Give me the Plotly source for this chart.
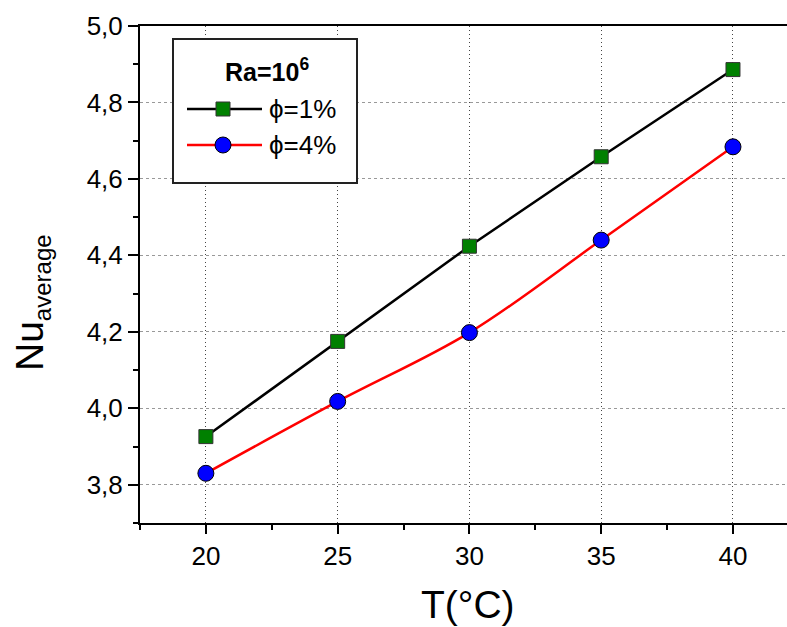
import plotly.graph_objects as go

# ---- data ----
temperature = [20, 25, 30, 35, 40]
nu_phi1 = [3.926, 4.175, 4.424, 4.658, 4.886]
nu_phi4 = [3.830, 4.018, 4.198, 4.440, 4.684]
series_names = ["ϕ=1%", "ϕ=4%"]
legend_title = "<b>Ra=10<sup>6</sup></b>"
x_title = "T(°C)"
y_title = "Nu<sub><span style='font-size:24px'>average</span></sub>"

W, H = 787, 627
ML, MR, MT, MB = 140, 0, 26, 104
FONT = "Liberation Sans, Arial, sans-serif"

def px(x):
    return (x - ML) / (W - ML - MR)

def py(y):
    return (H - MB - y) / (H - MT - MB)

fig = go.Figure()
fig.add_trace(go.Scatter(
    x=temperature, y=nu_phi1, mode="lines+markers", name=series_names[0],
    line=dict(color="black", width=2.5),
    marker=dict(symbol="square", size=14, color="#008000", line=dict(color="#333333", width=1)),
    showlegend=False,
))
fig.add_trace(go.Scatter(
    x=temperature, y=nu_phi4, mode="lines+markers", name=series_names[1],
    line=dict(color="#FF0000", width=2.5, shape="spline", smoothing=1),
    marker=dict(symbol="circle", size=16, color="#0000FF", line=dict(color="black", width=1)),
    showlegend=False,
))

# manual legend box
shapes = []
annotations = []
shapes.append(dict(type="rect", xref="paper", yref="paper",
                   x0=px(173), x1=px(357), y0=py(183), y1=py(39),
                   line=dict(color="#222222", width=2), fillcolor="white", layer="above"))
annotations.append(dict(xref="paper", yref="paper", x=px(267), y=py(70), text=legend_title,
                        showarrow=False, xanchor="center", yanchor="middle",
                        font=dict(family=FONT, size=25, color="black")))
rows = [(109, "black", "square", "#008000", series_names[0]),
        (145, "#FF0000", "circle", "#0000FF", series_names[1])]
for yrow, lc, sym, mc, name in rows:
    shapes.append(dict(type="line", xref="paper", yref="paper",
                       x0=px(187), x1=px(262), y0=py(yrow), y1=py(yrow),
                       line=dict(color=lc, width=2.5), layer="above"))
    if sym == "square":
        shapes.append(dict(type="rect", xref="paper", yref="paper",
                           x0=px(223 - 7), x1=px(223 + 7), y0=py(yrow + 7), y1=py(yrow - 7),
                           fillcolor=mc, line=dict(color="#333333", width=1), layer="above"))
    else:
        shapes.append(dict(type="circle", xref="paper", yref="paper",
                           x0=px(223 - 8), x1=px(223 + 8), y0=py(yrow + 8), y1=py(yrow - 8),
                           fillcolor=mc, line=dict(color="black", width=1), layer="above"))
    annotations.append(dict(xref="paper", yref="paper", x=px(267), y=py(yrow), text=name,
                            showarrow=False, xanchor="left", yanchor="middle",
                            font=dict(family=FONT, size=26, color="black")))

# axis titles
annotations.append(dict(xref="paper", yref="paper", x=px(468), y=py(604), text=x_title,
                        showarrow=False, xanchor="center", yanchor="middle",
                        font=dict(family=FONT, size=39, color="black")))
annotations.append(dict(xref="paper", yref="paper", x=px(32), y=py(302), text=y_title,
                        showarrow=False, xanchor="center", yanchor="middle", textangle=-90,
                        font=dict(family=FONT, size=39, color="black")))

fig.update_layout(
    width=W, height=H,
    margin=dict(l=ML, r=MR, t=MT, b=MB),
    plot_bgcolor="white", paper_bgcolor="white",
    separators=", ",
    font=dict(family=FONT, size=26, color="black"),
    shapes=shapes, annotations=annotations,
)
fig.update_xaxes(
    range=[17.5, 42.05], tickmode="linear", tick0=20, dtick=5,
    showline=True, linecolor="black", linewidth=2, mirror=True,
    ticks="outside", ticklen=9, tickwidth=2, tickcolor="black",
    tickfont=dict(family=FONT, size=26, color="black"),
    showgrid=True, gridcolor="#444444", gridwidth=1, griddash="1px,3px",
    minor=dict(ticks="outside", ticklen=5, tickwidth=2, tickcolor="black", dtick=2.5, tick0=17.5, showgrid=False),
    zeroline=False,
)
fig.update_yaxes(
    range=[3.7, 5.0], tickmode="linear", tick0=3.8, dtick=0.2, tickformat=".1f",
    showline=True, linecolor="black", linewidth=2, mirror=False,
    ticks="outside", ticklen=10, tickwidth=2, tickcolor="black",
    tickfont=dict(family=FONT, size=26, color="black"),
    showgrid=True, gridcolor="#999999", gridwidth=1, griddash="3px,3px",
    minor=dict(ticks="outside", ticklen=5, tickwidth=2, tickcolor="black", dtick=0.1, tick0=3.7, showgrid=False),
    zeroline=False,
)

fig.write_html("out.html")
